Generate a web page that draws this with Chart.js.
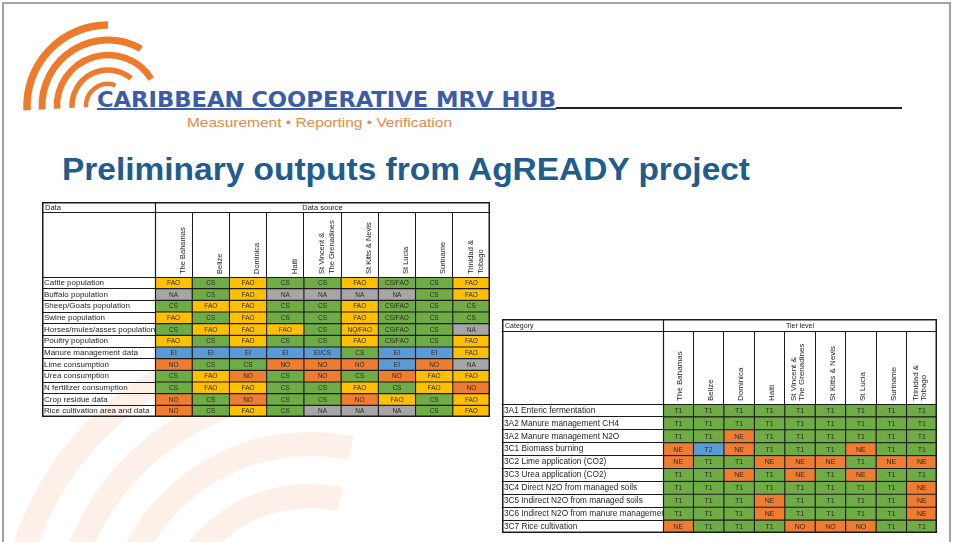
<!DOCTYPE html>
<html>
<head>
<meta charset="utf-8">
<title>Preliminary outputs from AgREADY project</title>
<script src="https://cdn.jsdelivr.net/npm/chart.js@4.4.1/dist/chart.umd.min.js"></script>
<style>
  body { margin: 0; width: 956px; height: 542px; overflow: hidden; background: #fff; position: relative; font-family: "Liberation Sans", Arial, sans-serif; }
  #slide { position: absolute; left: 2px; top: 2px; width: 949px; height: 600px; border: 2px solid #a3a3a3; box-sizing: border-box; }
  #art { position: absolute; left: 0; top: 0; }
  .txt { position: absolute; white-space: nowrap; transform-origin: 0 0; }
  #hub { left: 97px; top: 90px; font: bold 20.5px/21px "DejaVu Sans Condensed", "Liberation Sans", Arial, sans-serif; color: #3b5ca8; text-decoration: underline; text-decoration-thickness: 2px; text-underline-offset: 1px; }
  #hubLine { position: absolute; left: 556px; top: 107px; width: 346px; height: 2px; background: #222; }
  #tag { left: 187px; top: 116px; font: 13px/13px "Liberation Sans", Arial, sans-serif; color: #e8894a; }
  #title { left: 62px; top: 153px; font: bold 32px/32px "Liberation Sans", Arial, sans-serif; color: #215c8c; }
  .tbl { position: absolute; }
  #leftWrap { left: 42px; top: 202px; width: 448px; height: 215px; }
  #rightWrap { left: 502px; top: 319px; width: 435px; height: 214px; }
</style>
</head>
<body>
<div id="slide"></div>
<svg id="art" width="956" height="542"></svg>
<span class="txt" id="hub">CARIBBEAN COOPERATIVE MRV HUB</span>
<div id="hubLine"></div>
<span class="txt" id="tag">Measurement • Reporting • Verification</span>
<span class="txt" id="title">Preliminary outputs from AgREADY project</span>
<div class="tbl" id="leftWrap"><canvas id="sourceChart"></canvas></div>
<div class="tbl" id="rightWrap"><canvas id="tierChart"></canvas></div>

<script>
// ---- data ----
const countries = ["The Bahamas", "Belize", "Dominica", "Haiti", ["St Vincent &", "The Grenadines"],
  "St Kitts & Nevis", "St Lucia", "Suriname", ["Trinidad &", "Tobago"]];

const dataItems = ["Cattle population", "Buffalo population", "Sheep/Goats population", "Swine population",
  "Horses/mules/asses population", "Poultry population", "Manure management data", "Lime consumption",
  "Urea consumption", "N fertilizer consumption", "Crop residue data", "Rice cultivation area and data"];

// one row per data item, one entry per country
const sourceCodes = [
  ["FAO", "CS", "FAO", "CS", "CS", "FAO", "CS/FAO", "CS", "FAO"],
  ["NA", "CS", "FAO", "NA", "NA", "NA", "NA", "CS", "FAO"],
  ["CS", "FAO", "FAO", "CS", "CS", "FAO", "CS/FAO", "CS", "CS"],
  ["FAO", "CS", "FAO", "CS", "CS", "FAO", "CS/FAO", "CS", "CS"],
  ["CS", "FAO", "FAO", "FAO", "CS", "NQ/FAO", "CS/FAO", "CS", "NA"],
  ["FAO", "CS", "FAO", "CS", "CS", "FAO", "CS/FAO", "CS", "FAO"],
  ["EI", "EI", "EI", "EI", "EI/CS", "CS", "EI", "EI", "FAO"],
  ["NO", "CS", "CS", "NO", "NO", "NO", "EI", "NO", "NA"],
  ["CS", "FAO", "NO", "CS", "NO", "CS", "NO", "FAO", "FAO"],
  ["CS", "FAO", "FAO", "CS", "CS", "FAO", "CS", "FAO", "NO"],
  ["NO", "CS", "NO", "CS", "CS", "NO", "FAO", "CS", "FAO"],
  ["NO", "CS", "FAO", "CS", "NA", "NA", "NA", "CS", "FAO"]
];

const categories = ["3A1 Enteric fermentation", "3A2 Manure management CH4", "3A2 Manure management N2O",
  "3C1 Biomass burning", "3C2 Lime application (CO2)", "3C3 Urea application (CO2)",
  "3C4 Direct N2O from managed soils", "3C5 Indirect N2O from managed soils",
  "3C6 Indirect N2O from manure management", "3C7 Rice cultivation"];

const tierCodes = [
  ["T1", "T1", "T1", "T1", "T1", "T1", "T1", "T1", "T1"],
  ["T1", "T1", "T1", "T1", "T1", "T1", "T1", "T1", "T1"],
  ["T1", "T1", "NE", "T1", "T1", "T1", "T1", "T1", "T1"],
  ["NE", "T2", "NE", "T1", "T1", "T1", "NE", "T1", "T1"],
  ["NE", "T1", "T1", "NE", "NE", "NE", "T1", "NE", "NE"],
  ["T1", "T1", "NE", "T1", "NE", "T1", "NE", "T1", "T1"],
  ["T1", "T1", "T1", "T1", "T1", "T1", "T1", "T1", "NE"],
  ["T1", "T1", "T1", "NE", "T1", "T1", "T1", "T1", "NE"],
  ["T1", "T1", "T1", "NE", "T1", "T1", "T1", "T1", "NE"],
  ["NE", "T1", "T1", "T1", "NO", "NO", "NO", "T1", "T1"]
];

// ---- styles ----
const cellColors = {
  "FAO": "#ffc000", "NQ/FAO": "#ffc000",
  "CS": "#6fac46", "CS/FAO": "#6fac46", "T1": "#6fac46",
  "EI": "#5b9bd5", "EI/CS": "#5b9bd5", "T2": "#5b9bd5",
  "NA": "#a6a6a6",
  "NO": "#ee7d31", "NE": "#ee7d31"
};
const lineColor = "#1c1c1c";

// logo + faint watermark arcs (decoration only)
function arcPath(cx, cy, r, a0, a1) {
  const p = a => [cx + r * Math.cos(a * Math.PI / 180), cy - r * Math.sin(a * Math.PI / 180)];
  const [x0, y0] = p(a0), [x1, y1] = p(a1);
  return `M${x0.toFixed(1)} ${y0.toFixed(1)} A${r} ${r} 0 0 1 ${x1.toFixed(1)} ${y1.toFixed(1)}`;
}
const svg = document.getElementById("art");
let art = "";
[300, 248, 196, 144].forEach(r => {
  art += `<path d="${arcPath(310, 640, r, 182, 78)}" fill="none" stroke="#f4a46e" stroke-opacity="0.16" stroke-width="24"/>`;
});
[[81, 90, 7.5], [66, 60, 7], [51, 32, 6.5], [36, 50, 5.5], [22, 70, 4.5]].forEach(([r, end, w]) => {
  art += `<path d="${arcPath(108, 106, r, 183, end)}" fill="none" stroke="#ee7a2c" stroke-width="${w}"/>`;
});
svg.innerHTML = art;

// stretch the slide texts to the widths they take on the slide
function fitWidth(id, w) {
  const el = document.getElementById(id);
  const real = el.getBoundingClientRect().width;
  el.style.transform = `scaleX(${w / real})`;
}
fitWidth("hub", 459);
fitWidth("tag", 265);
fitWidth("title", 688);

// ==========================
// TABLE PLUGINS
// ==========================

const tableFrame = {
  id: "tableFrame",
  afterDraw(chart, args, opts) {
    const { ctx, chartArea, width, height } = chart;
    ctx.save();
    ctx.strokeStyle = lineColor;
    ctx.lineWidth = 1.5;
    ctx.strokeRect(0.75, 0.75, width - 1.5, height - 1.5);
    ctx.lineWidth = 1.2;
    ctx.beginPath();
    ctx.moveTo(0, opts.headRow + 0.5);
    ctx.lineTo(width, opts.headRow + 0.5);
    ctx.moveTo(chartArea.left + 0.5, 0);
    ctx.lineTo(chartArea.left + 0.5, height);
    ctx.moveTo(0, chartArea.top + 0.5);
    ctx.lineTo(width, chartArea.top + 0.5);
    ctx.stroke();
    ctx.fillStyle = "#222";
    ctx.font = opts.font;
    ctx.textBaseline = "middle";
    ctx.textAlign = "left";
    ctx.fillText(opts.leftTitle, 3, opts.headRow / 2 + 1);
    ctx.textAlign = "center";
    ctx.fillText(opts.rightTitle, (chartArea.left + chartArea.right) / 2, opts.headRow / 2 + 1);
    ctx.restore();
  }
};

const cellText = {
  id: "cellText",
  afterDatasetsDraw(chart, args, opts) {
    const ctx = chart.ctx;
    ctx.save();
    ctx.font = opts.font;
    ctx.fillStyle = "#2a2a2a";
    ctx.textAlign = "center";
    ctx.textBaseline = "middle";
    chart.data.datasets.forEach((ds, i) => {
      chart.getDatasetMeta(i).data.forEach((bar, k) => {
        ctx.fillText(ds.codes[k], (bar.x + bar.base) / 2, bar.y + 0.5);
      });
    });
    ctx.restore();
  }
};

function noPadding(scale) {
  scale.paddingTop = 0;
  scale.paddingBottom = 0;
  scale.paddingLeft = 0;
  scale.paddingRight = 0;
}

function drawTable(canvasId, rowLabels, codes, setup) {

  const datasets = countries.map((country, j) => ({
    label: [].concat(country).join(" "),
    data: rowLabels.map(() => 1),
    codes: codes.map(row => row[j]),
    backgroundColor: codes.map(row => cellColors[row[j]]),
    borderColor: lineColor,
    borderWidth: 0.9,
    borderSkipped: false,
    barPercentage: 1,
    categoryPercentage: 1
  }));

  return new Chart(document.getElementById(canvasId), {
    type: "bar",
    data: { labels: rowLabels, datasets: datasets },
    options: {
      indexAxis: "y",
      responsive: true,
      maintainAspectRatio: false,
      animation: false,
      layout: { padding: { top: setup.headRow, left: 2, right: 0, bottom: 0 } },
      plugins: {
        legend: { display: false },
        tooltip: { enabled: false },
        tableFrame: { headRow: setup.headRow, leftTitle: setup.leftTitle, rightTitle: setup.rightTitle, font: setup.titleFont },
        cellText: { font: setup.cellFont }
      },
      scales: {
        x: { type: "linear", stacked: true, min: 0, max: countries.length, display: false },
        y: {
          stacked: true,
          offset: true,
          grid: { offset: true, color: lineColor, lineWidth: 1, drawTicks: true, tickLength: setup.labelWidth },
          border: { display: false },
          ticks: { crossAlign: "far", autoSkip: false, color: "#262626", font: { family: "Liberation Sans", size: setup.rowFontSize } },
          afterFit(scale) {
            scale.width = setup.labelWidth - 2;
            noPadding(scale);
          }
        },
        xTop: {
          type: "category",
          position: "top",
          labels: countries,
          offset: true,
          grid: { offset: true, color: lineColor, lineWidth: 1, drawTicks: true, tickLength: setup.headHeight },
          border: { display: false },
          ticks: {
            autoSkip: false, minRotation: 90, maxRotation: 90,
            padding: 3 - setup.headHeight,
            labelOffset: setup.headShift,
            color: "#262626",
            font: { family: "Liberation Sans", size: setup.headFontSize, lineHeight: setup.headLineHeight }
          },
          afterFit(scale) {
            scale.height = setup.headHeight;
            noPadding(scale);
          }
        }
      }
    },
    plugins: [tableFrame, cellText]
  });
}

drawTable("sourceChart", dataItems, sourceCodes, {
  headRow: 10, headHeight: 65, labelWidth: 113,
  leftTitle: "Data", rightTitle: "Data source",
  titleFont: "7.5px 'Liberation Sans'", cellFont: "6.5px 'Liberation Sans'",
  rowFontSize: 8, headFontSize: 7.5, headLineHeight: 1.3, headShift: 19
});

drawTable("tierChart", categories, tierCodes, {
  headRow: 12, headHeight: 73, labelWidth: 161,
  leftTitle: "Category", rightTitle: "Tier level",
  titleFont: "7px 'Liberation Sans'", cellFont: "7px 'Liberation Sans'",
  rowFontSize: 8.3, headFontSize: 8, headLineHeight: 1.0, headShift: 10
});
</script>
</body>
</html>
